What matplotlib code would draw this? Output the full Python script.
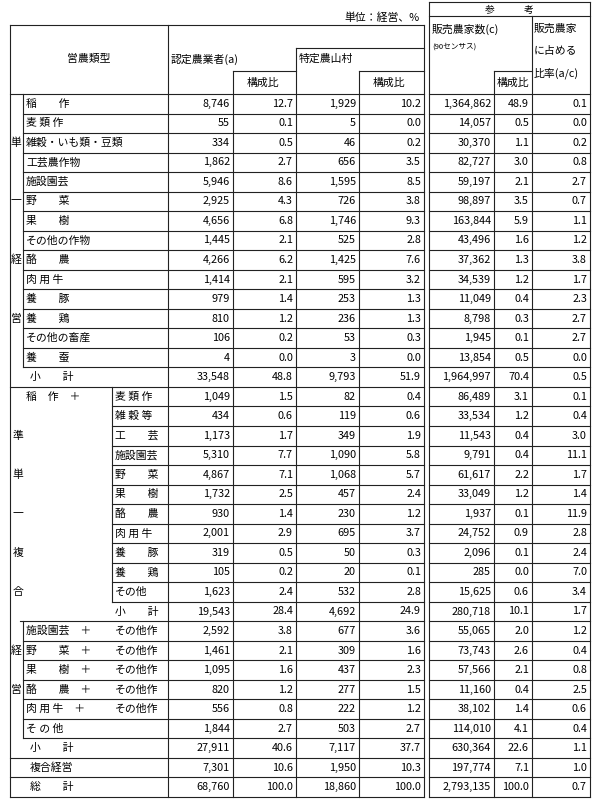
import matplotlib
matplotlib.use("Agg")
import matplotlib.pyplot as plt

plt.rcParams['font.family'] = ['Noto Sans CJK JP', 'DejaVu Sans']

names = ["稲　　作", "麦 類 作", "雑穀・いも類・豆類", "工芸農作物", "施設園芸", "野　　菜", "果　　樹",
         "その他の作物", "酪　　農", "肉 用 牛", "養　　豚", "養　　鶏", "その他の畜産", "養　　蚕", "小　　計",
         "稲　作　＋", "", "", "", "", "", "", "", "", "", "", "",
         "施設園芸　＋", "野　　菜　＋", "果　　樹　＋", "酪　　農　＋", "肉 用 牛　＋", "そ の 他", "小　　計",
         "複合経営", "総　　計"]
subs = [""] * 15 + ["麦 類 作", "雑 穀 等", "工　　芸", "施設園芸", "野　　菜", "果　　樹", "酪　　農",
                    "肉 用 牛", "養　　豚", "養　　鶏", "その他", "小　　計"] + \
       ["その他作"] * 5 + ["", "", "", ""]
a = ["8,746", "55", "334", "1,862", "5,946", "2,925", "4,656", "1,445", "4,266", "1,414", "979", "810", "106", "4", "33,548",
     "1,049", "434", "1,173", "5,310", "4,867", "1,732", "930", "2,001", "319", "105", "1,623", "19,543",
     "2,592", "1,461", "1,095", "820", "556", "1,844", "27,911", "7,301", "68,760"]
a_ratio = ["12.7", "0.1", "0.5", "2.7", "8.6", "4.3", "6.8", "2.1", "6.2", "2.1", "1.4", "1.2", "0.2", "0.0", "48.8",
           "1.5", "0.6", "1.7", "7.7", "7.1", "2.5", "1.4", "2.9", "0.5", "0.2", "2.4", "28.4",
           "3.8", "2.1", "1.6", "1.2", "0.8", "2.7", "40.6", "10.6", "100.0"]
b = ["1,929", "5", "46", "656", "1,595", "726", "1,746", "525", "1,425", "595", "253", "236", "53", "3", "9,793",
     "82", "119", "349", "1,090", "1,068", "457", "230", "695", "50", "20", "532", "4,692",
     "677", "309", "437", "277", "222", "503", "7,117", "1,950", "18,860"]
b_ratio = ["10.2", "0.0", "0.2", "3.5", "8.5", "3.8", "9.3", "2.8", "7.6", "3.2", "1.3", "1.3", "0.3", "0.0", "51.9",
           "0.4", "0.6", "1.9", "5.8", "5.7", "2.4", "1.2", "3.7", "0.3", "0.1", "2.8", "24.9",
           "3.6", "1.6", "2.3", "1.5", "1.2", "2.7", "37.7", "10.3", "100.0"]
c = ["1,364,862", "14,057", "30,370", "82,727", "59,197", "98,897", "163,844", "43,496", "37,362", "34,539", "11,049",
     "8,798", "1,945", "13,854", "1,964,997",
     "86,489", "33,534", "11,543", "9,791", "61,617", "33,049", "1,937", "24,752", "2,096", "285", "15,625", "280,718",
     "55,065", "73,743", "57,566", "11,160", "38,102", "114,010", "630,364", "197,774", "2,793,135"]
c_ratio = ["48.9", "0.5", "1.1", "3.0", "2.1", "3.5", "5.9", "1.6", "1.3", "1.2", "0.4", "0.3", "0.1", "0.5", "70.4",
           "3.1", "1.2", "0.4", "0.4", "2.2", "1.2", "0.1", "0.9", "0.1", "0.0", "0.6", "10.1",
           "2.0", "2.6", "2.1", "0.4", "1.4", "4.1", "22.6", "7.1", "100.0"]
ac = ["0.1", "0.0", "0.2", "0.8", "2.7", "0.7", "1.1", "1.2", "3.8", "1.7", "2.3", "2.7", "2.7", "0.0", "0.5",
      "0.1", "0.4", "3.0", "11.1", "1.7", "1.4", "11.9", "2.8", "2.4", "7.0", "3.4", "1.7",
      "1.2", "0.4", "0.8", "2.5", "0.6", "0.4", "1.1", "1.0", "0.7"]

W, H = 598, 800
fig = plt.figure(figsize=(W / 100, H / 100), dpi=100)
ax = fig.add_axes([0, 0, 1, 1])
ax.set_xlim(0, W); ax.set_ylim(H, 0); ax.axis('off')
lw = 0.8
col = '#222222'
fs = 7.8

def hl(y, x0, x1): ax.plot([x0, x1], [y, y], color=col, lw=lw)
def vl(x, y0, y1): ax.plot([x, x], [y0, y1], color=col, lw=lw)

L, G, NE, AR, B, BR, ME, RS, CR, AC, RE = 10, 23, 168, 233, 296, 359, 424, 429, 494, 532, 590
top, hb = 25, 94
n = len(a)
rh = (797 - hb) / n
ys = [hb + i * rh for i in range(n + 1)]
bottom = ys[-1]

# header
ax.text(ME - 4, 18, "単位：経営、%", ha='right', va='center', fontsize=fs)
hl(2, RS, RE); hl(16, RS, RE)
ax.text((RS + RE) / 2, 9.5, "参　　　考", ha='center', va='center', fontsize=7)
hl(top, L, ME); hl(48, B, ME)
for x0, x1 in [(AR, B), (BR, ME), (CR, AC)]:
    hl(71, x0, x1)
hl(hb, L, ME); hl(hb, RS, RE)
vl(L, top, bottom); vl(NE, top, bottom); vl(AR, 71, bottom); vl(B, 48, bottom)
vl(BR, 71, bottom); vl(ME, top, bottom)
vl(RS, 2, bottom); vl(CR, 71, bottom); vl(AC, 16, bottom); vl(RE, 2, bottom)
ax.text((L + NE) / 2, 59, "営農類型", ha='center', va='center', fontsize=fs)
ax.text(NE + 3, 59, "認定農業者(a)", ha='left', va='center', fontsize=fs)
ax.text(B + 3, 59, "特定農山村", ha='left', va='center', fontsize=fs)
ax.text(AR + 30, 83, "構成比", ha='center', va='center', fontsize=fs)
ax.text(BR + 30, 83, "構成比", ha='center', va='center', fontsize=fs)
ax.text(CR + 19, 83, "構成比", ha='center', va='center', fontsize=fs)
ax.text(RS + 3, 29, "販売農家数(c)", ha='left', va='center', fontsize=fs)
ax.text(RS + 3, 47, "(90センサス)", ha='left', va='center', fontsize=5.5)
for i, t in enumerate(["販売農家", "に占める", "比率(a/c)"]):
    ax.text(AC + 2, 29 + i * 22, t, ha='left', va='center', fontsize=fs)

# group label columns
vl(G, ys[0], ys[14]); vl(G, ys[27], ys[33]); vl(112, ys[15], ys[26])
for ch, r in [("単", 2), ("一", 5), ("経", 8), ("営", 11)]:
    ax.text(16, (ys[r] + ys[r + 1]) / 2, ch, ha='center', va='center', fontsize=fs)
for ch, r in [("準", 17), ("単", 19), ("一", 21), ("複", 23), ("合", 25)]:
    ax.text(18, (ys[r] + ys[r + 1]) / 2, ch, ha='center', va='center', fontsize=fs)
for ch, r in [("経", 28), ("営", 30)]:
    ax.text(16, (ys[r] + ys[r + 1]) / 2, ch, ha='center', va='center', fontsize=fs)

for i in range(n):
    yb = ys[i + 1]; yc = (ys[i] + yb) / 2
    if i in (14, 33, 34, 35):
        x0 = L
    elif i == 26:
        x0 = 20
    elif 15 <= i <= 25:
        x0 = 112
    else:
        x0 = G
    hl(yb, x0, ME); hl(yb, RS, RE)
    nx = 30 if i in (14, 33, 34, 35) else 26
    if names[i]:
        ax.text(nx, yc, names[i], ha='left', va='center', fontsize=fs)
    if subs[i]:
        ax.text(115, yc, subs[i], ha='left', va='center', fontsize=fs)
    for x, v in [(AR, a[i]), (B, a_ratio[i]), (BR, b[i]), (ME, b_ratio[i]), (CR, c[i]), (AC, c_ratio[i]), (RE, ac[i])]:
        ax.text(x - 3, yc, v, ha='right', va='center', fontsize=fs)

fig.savefig("out.png", dpi=100, facecolor='white')
